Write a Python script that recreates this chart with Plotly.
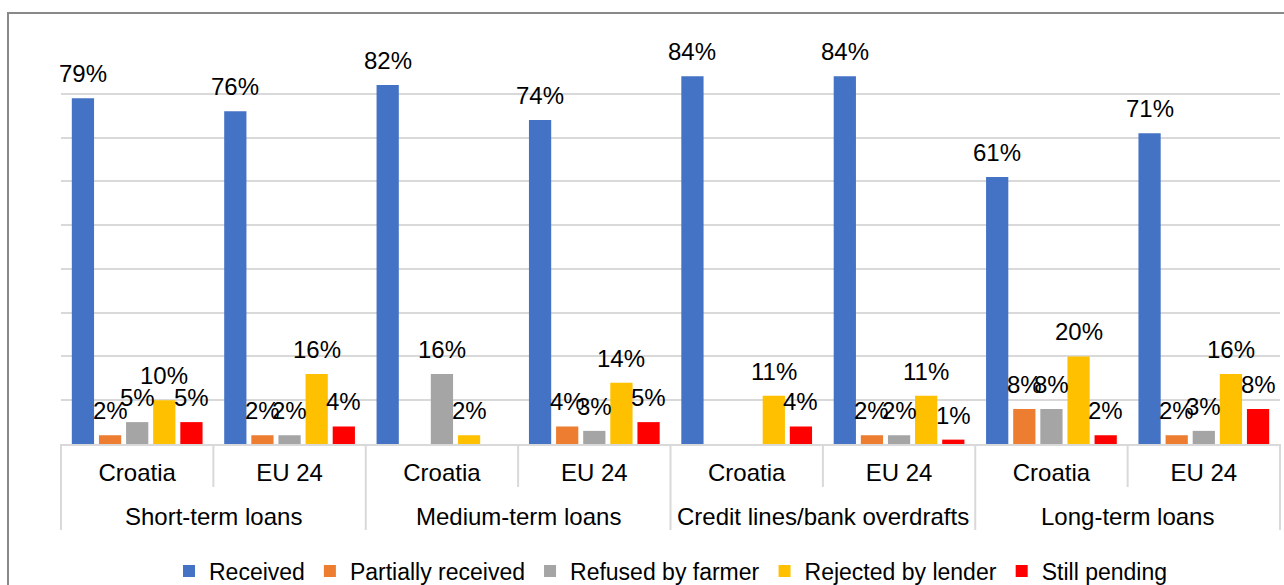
import plotly.graph_objects as go

# Loan application outcomes, share of applicants (%)
loan_types = ["Short-term loans", "Medium-term loans",
              "Credit lines/bank overdrafts", "Long-term loans"]
regions = ["Croatia", "EU 24"]

received           = [79, 76, 82, 74, 84, 84, 61, 71]
partially_received = [2, 2, None, 4, None, 2, 8, 2]
refused_by_farmer  = [5, 2, 16, 3, None, 2, 8, 3]
rejected_by_lender = [10, 16, 2, 14, 11, 11, 20, 16]
still_pending      = [5, 4, None, 5, 4, 1, 2, 8]

series = [
    ("Received", received, "#4472C4"),
    ("Partially received", partially_received, "#ED7D31"),
    ("Refused by farmer", refused_by_farmer, "#A5A5A5"),
    ("Rejected by lender", rejected_by_lender, "#FFC000"),
    ("Still pending", still_pending, "#FF0000"),
]

# one category per (loan type, region) pair, labelled by region on the axis
x_keys = [f"{lt}|{r}" for lt in loan_types for r in regions]
x_text = [r for _ in loan_types for r in regions]

FONT = "Liberation Sans, Arial, sans-serif"
FS = 24
W, H = 1284, 585
ML, MR, MT, MB = 61, 4, 50, 141
PW, PH = W - ML - MR, H - MT - MB
BARGAP, BARGROUPGAP = 0.11, 0.18

def px_x(px):
    return (px - ML) / PW

def px_y(py):
    return (H - MB - py) / PH

fig = go.Figure()
annotations = []
n_series = len(series)
slot = (1 - BARGAP) / n_series
for j, (name, vals, color) in enumerate(series):
    fig.add_trace(go.Bar(
        name=name,
        x=x_keys,
        y=vals,
        marker=dict(color=color, line=dict(width=0)),
    ))
    # value labels above each bar, placed at the bar's slot within its group
    offset = -(1 - BARGAP) / 2 + slot * (j + 0.5)
    for i, v in enumerate(vals):
        if v is None:
            continue
        annotations.append(dict(
            text=f"{v}%", xref="x", yref="y", x=i + offset, y=v,
            xanchor="center", yanchor="bottom", yshift=9,
            showarrow=False,
            font=dict(family=FONT, size=FS, color="#000000")))

# table-style category frame below the axis
line_col = "#D9D9D9"
shapes = []
n = len(x_keys)
for k in range(n + 1):
    deep = (k % 2 == 0)
    y_end = px_y(530) if deep else px_y(487)
    shapes.append(dict(type="line", xref="paper", yref="paper",
                       x0=k / n, x1=k / n, y0=0, y1=y_end,
                       line=dict(color=line_col, width=2)))
# outer chart border
shapes.append(dict(type="rect", xref="paper", yref="paper",
                   x0=px_x(8), x1=px_x(1300), y0=px_y(13), y1=px_y(600),
                   line=dict(color="#898989", width=2), layer="below"))

# loan-type labels centred under each pair of categories
annotations += [
    dict(text=lt, xref="paper", yref="paper",
         x=(2 * i + 1) / n, y=px_y(516), xanchor="center", yanchor="middle",
         showarrow=False, font=dict(family=FONT, size=FS, color="#000000"))
    for i, lt in enumerate(loan_types)
]

fig.update_layout(
    width=W, height=H,
    margin=dict(l=ML, r=MR, t=MT, b=MB, autoexpand=False),
    paper_bgcolor="white", plot_bgcolor="white",
    barmode="group", bargap=BARGAP, bargroupgap=BARGROUPGAP,
    font=dict(family=FONT, size=FS, color="#000000"),
    showlegend=True,
    legend=dict(orientation="h", x=0.5, xanchor="center",
                y=px_y(571), yanchor="middle",
                font=dict(family=FONT, size=23, color="#000000"),
                itemwidth=30, tracegroupgap=0),
    shapes=shapes,
    annotations=annotations,
)
fig.update_yaxes(range=[0, 90], dtick=10, showticklabels=False,
                 showgrid=True, gridcolor=line_col, gridwidth=2,
                 zeroline=False, showline=False, automargin=False)
fig.update_xaxes(type="category", tickmode="array",
                 tickvals=x_keys, ticktext=x_text,
                 range=[-0.5, n - 0.5],
                 showline=True, linecolor=line_col, linewidth=2,
                 ticks="", showgrid=False, automargin=False,
                 ticklabelstandoff=6,
                 tickfont=dict(family=FONT, size=FS, color="#000000"))

fig.write_html("out.html")
